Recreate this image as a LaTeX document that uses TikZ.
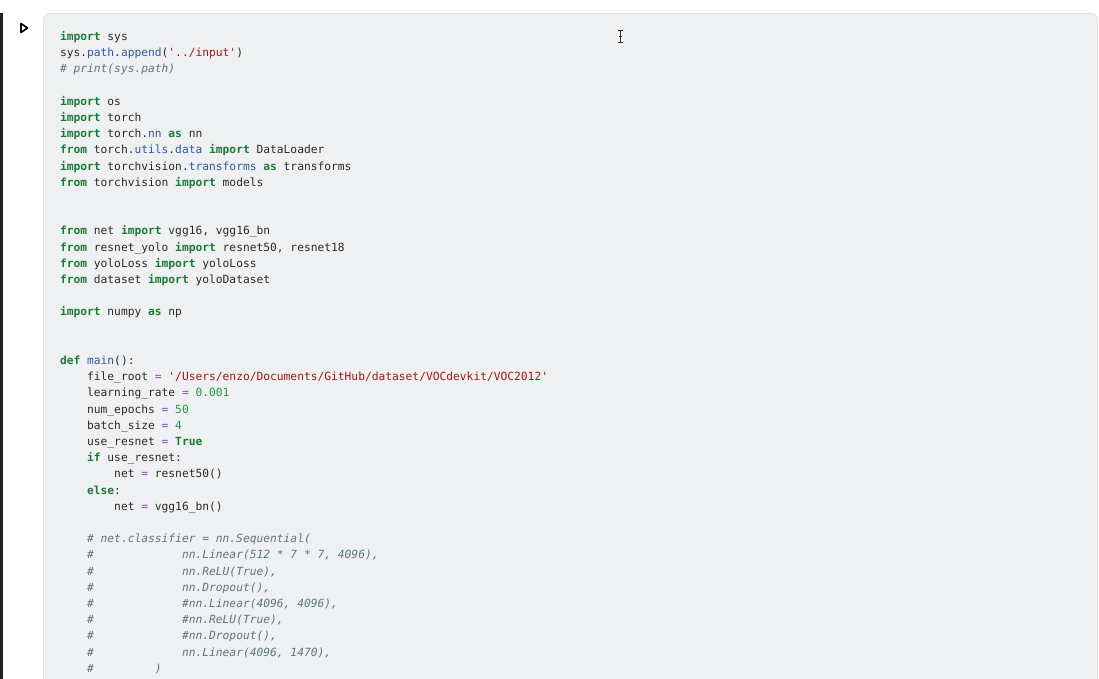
\documentclass[tikz,border=0pt]{standalone}
\usepackage{fontspec}
\newfontfamily\codefont{DejaVu Sans Mono}
\definecolor{bgbox}{HTML}{EFF0F2}
\definecolor{bgedge}{HTML}{E0E1E4}
\definecolor{kwc}{HTML}{1B7A36}
\definecolor{stc}{HTML}{A31515}
\definecolor{atc}{HTML}{2F58A3}
\definecolor{cmc}{HTML}{5C7878}
\definecolor{nmc}{HTML}{23934A}
\definecolor{opc}{HTML}{9440C4}
\definecolor{txc}{HTML}{2A2A2A}
\definecolor{barc}{HTML}{202124}
\newcommand\kw[1]{{\bfseries\color{kwc}#1}}
\newcommand\st[1]{{\color{stc}#1}}
\newcommand\at[1]{{\color{atc}#1}}
\newcommand\cm[1]{{\itshape\color{cmc}#1}}
\newcommand\nm[1]{{\color{nmc}#1}}
\newcommand\op[1]{{\color{opc}#1}}
\newcommand\sq{\char"0027\relax}
\newlength\cwid
\newcommand\sps[1]{\hspace*{#1\cwid}}
\begin{document}
\begin{tikzpicture}[x=1pt,y=-1pt,
  codeline/.style={anchor=base west,inner sep=0pt,outer sep=0pt,text=txc,
     font={\codefont\fontsize{11.26}{16.2}\selectfont\settowidth\cwid{x}}}]
\useasboundingbox (0,0) rectangle (1099,679);
\fill[white] (0,0) rectangle (1099,679);
% left bar
\fill[barc] (0,13) rectangle (3,679);
% cell box
\draw[fill=bgbox,draw=bgedge,line width=0.8pt,rounded corners=6pt] (43.5,13.5) -- (1097.5,13.5) -- (1097.5,690) -- (43.5,690) -- cycle;
% play triangle
\draw[black,line width=1.7pt,line join=round,fill=white] (21,23.5) -- (27.5,28) -- (21,32.5) -- cycle;
% I-beam cursor
\draw[black!80,line width=0.9pt] (620,30) -- (620,42);
\draw[black!80,line width=0.8pt] (617.5,30) -- (622.5,30) (617.5,42) -- (622.5,42) (618.5,36) -- (621.5,36);
% code lines
\def\by{40.5}\def\ls{16.2}
\node[codeline] (l0)  at (60,{\by+0*\ls})  {\kw{import} sys};
\node[codeline] (l1)  at (60,{\by+1*\ls})  {sys.\at{path}.\at{append}(\st{\sq../input\sq})};
\node[codeline] (l2)  at (60,{\by+2*\ls})  {\cm{\# print(sys.path)}};
\node[codeline] (l4)  at (60,{\by+4*\ls})  {\kw{import} os};
\node[codeline] (l5)  at (60,{\by+5*\ls})  {\kw{import} torch};
\node[codeline] (l6)  at (60,{\by+6*\ls})  {\kw{import} torch.\at{nn} \kw{as} nn};
\node[codeline] (l7)  at (60,{\by+7*\ls})  {\kw{from} torch.\at{utils}.\at{data} \kw{import} DataLoader};
\node[codeline] (l8)  at (60,{\by+8*\ls})  {\kw{import} torchvision.\at{transforms} \kw{as} transforms};
\node[codeline] (l9)  at (60,{\by+9*\ls})  {\kw{from} torchvision \kw{import} models};
\node[codeline] (l12) at (60,{\by+12*\ls}) {\kw{from} net \kw{import} vgg16, vgg16\_bn};
\node[codeline] (l13) at (60,{\by+13*\ls}) {\kw{from} resnet\_yolo \kw{import} resnet50, resnet18};
\node[codeline] (l14) at (60,{\by+14*\ls}) {\kw{from} yoloLoss \kw{import} yoloLoss};
\node[codeline] (l15) at (60,{\by+15*\ls}) {\kw{from} dataset \kw{import} yoloDataset};
\node[codeline] (l17) at (60,{\by+17*\ls}) {\kw{import} numpy \kw{as} np};
\node[codeline] (l20) at (60,{\by+20*\ls}) {\kw{def} \at{main}():};
\node[codeline] (l21) at (60,{\by+21*\ls}) {\sps{4}file\_root \op{=} \st{\sq/Users/enzo/Documents/GitHub/dataset/VOCdevkit/VOC2012\sq}};
\node[codeline] (l22) at (60,{\by+22*\ls}) {\sps{4}learning\_rate \op{=} \nm{0.001}};
\node[codeline] (l23) at (60,{\by+23*\ls}) {\sps{4}num\_epochs \op{=} \nm{50}};
\node[codeline] (l24) at (60,{\by+24*\ls}) {\sps{4}batch\_size \op{=} \nm{4}};
\node[codeline] (l25) at (60,{\by+25*\ls}) {\sps{4}use\_resnet \op{=} \kw{True}};
\node[codeline] (l26) at (60,{\by+26*\ls}) {\sps{4}\kw{if} use\_resnet:};
\node[codeline] (l27) at (60,{\by+27*\ls}) {\sps{8}net \op{=} resnet50()};
\node[codeline] (l28) at (60,{\by+28*\ls}) {\sps{4}\kw{else}:};
\node[codeline] (l29) at (60,{\by+29*\ls}) {\sps{8}net \op{=} vgg16\_bn()};
\node[codeline] (l31) at (60,{\by+31*\ls}) {\sps{4}\cm{\# net.classifier = nn.Sequential(}};
\node[codeline] (l32) at (60,{\by+32*\ls}) {\sps{4}\cm{\#\sps{13}nn.Linear(512 * 7 * 7, 4096),}};
\node[codeline] (l33) at (60,{\by+33*\ls}) {\sps{4}\cm{\#\sps{13}nn.ReLU(True),}};
\node[codeline] (l34) at (60,{\by+34*\ls}) {\sps{4}\cm{\#\sps{13}nn.Dropout(),}};
\node[codeline] (l35) at (60,{\by+35*\ls}) {\sps{4}\cm{\#\sps{13}\#nn.Linear(4096, 4096),}};
\node[codeline] (l36) at (60,{\by+36*\ls}) {\sps{4}\cm{\#\sps{13}\#nn.ReLU(True),}};
\node[codeline] (l37) at (60,{\by+37*\ls}) {\sps{4}\cm{\#\sps{13}\#nn.Dropout(),}};
\node[codeline] (l38) at (60,{\by+38*\ls}) {\sps{4}\cm{\#\sps{13}nn.Linear(4096, 1470),}};
\node[codeline] (l39) at (60,{\by+39*\ls}) {\sps{4}\cm{\#\sps{9})}};
\end{tikzpicture}
\end{document}
